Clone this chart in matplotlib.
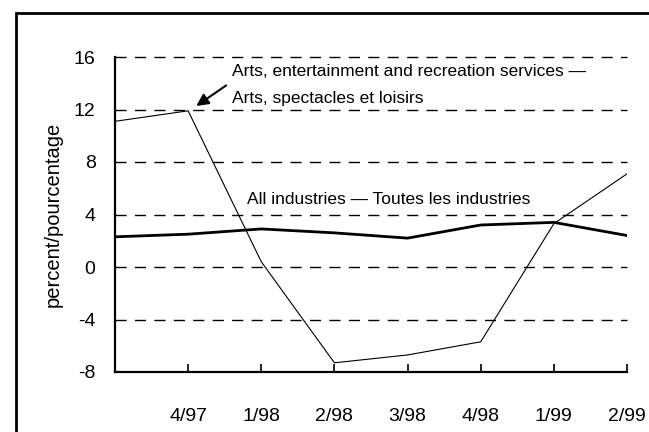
import matplotlib
matplotlib.use("Agg")
from matplotlib import pyplot as plt
from matplotlib.patches import Rectangle

plt.rcParams['font.family'] = ['Liberation Sans', 'DejaVu Sans']

quarters = ['3/97', '4/97', '1/98', '2/98', '3/98', '4/98', '1/99', '2/99']
arts = [11.1, 11.9, 0.4, -7.3, -6.7, -5.7, 3.3, 7.1]
all_industries = [2.3, 2.5, 2.9, 2.6, 2.2, 3.2, 3.4, 2.4]
y_ticks = [-8, -4, 0, 4, 8, 12, 16]

fig = plt.figure(figsize=(6.49, 4.32), dpi=100)
ax = fig.add_axes([115 / 649, 60 / 432, 512 / 649, 315 / 432])

x = list(range(len(quarters)))
ax.plot(x, arts, color='black', linewidth=0.8)
ax.plot(x, all_industries, color='black', linewidth=2.0)

ax.set_xlim(0, len(quarters) - 1)
ax.set_ylim(-8, 16)
ax.set_yticks(y_ticks)
ax.set_yticklabels([str(v) for v in y_ticks], fontsize=14)
ax.set_xticks(x[1:])
ax.set_xticklabels(quarters[1:], fontsize=14)
ax.tick_params(axis='y', length=0, pad=14)
ax.tick_params(axis='x', direction='in', length=6, width=1.2, pad=26)

for v in y_ticks[1:]:
    ax.axhline(v, color='black', linewidth=1.0, linestyle=(0, (8, 6)), zorder=0, clip_on=False)

for side in ['top', 'right']:
    ax.spines[side].set_visible(False)
for side in ['left', 'bottom']:
    ax.spines[side].set_linewidth(1.6)

ax.set_ylabel('percent/pourcentage', fontsize=14.5, labelpad=8)

ax.text(1.6, 14.93, 'Arts, entertainment and recreation services \u2014',
        fontsize=12.5, va='center', ha='left')
ax.text(1.6, 12.82, 'Arts, spectacles et loisirs', fontsize=12.5, va='center', ha='left')
ax.annotate('', xy=(1.08, 12.15), xytext=(1.55, 13.95),
            arrowprops=dict(arrowstyle='-|>', color='black', lw=1.5, mutation_scale=18))
ax.text(1.81, 5.18, 'All industries \u2014 Toutes les industries',
        fontsize=12.5, va='center', ha='left')

# frame around the whole chart
fig.patches.append(Rectangle((16 / 649, -0.1), 1.0, 1.1 - 13 / 432, transform=fig.transFigure,
                             fill=False, edgecolor='black', linewidth=2.0))

fig.savefig('out.png', dpi=100)
